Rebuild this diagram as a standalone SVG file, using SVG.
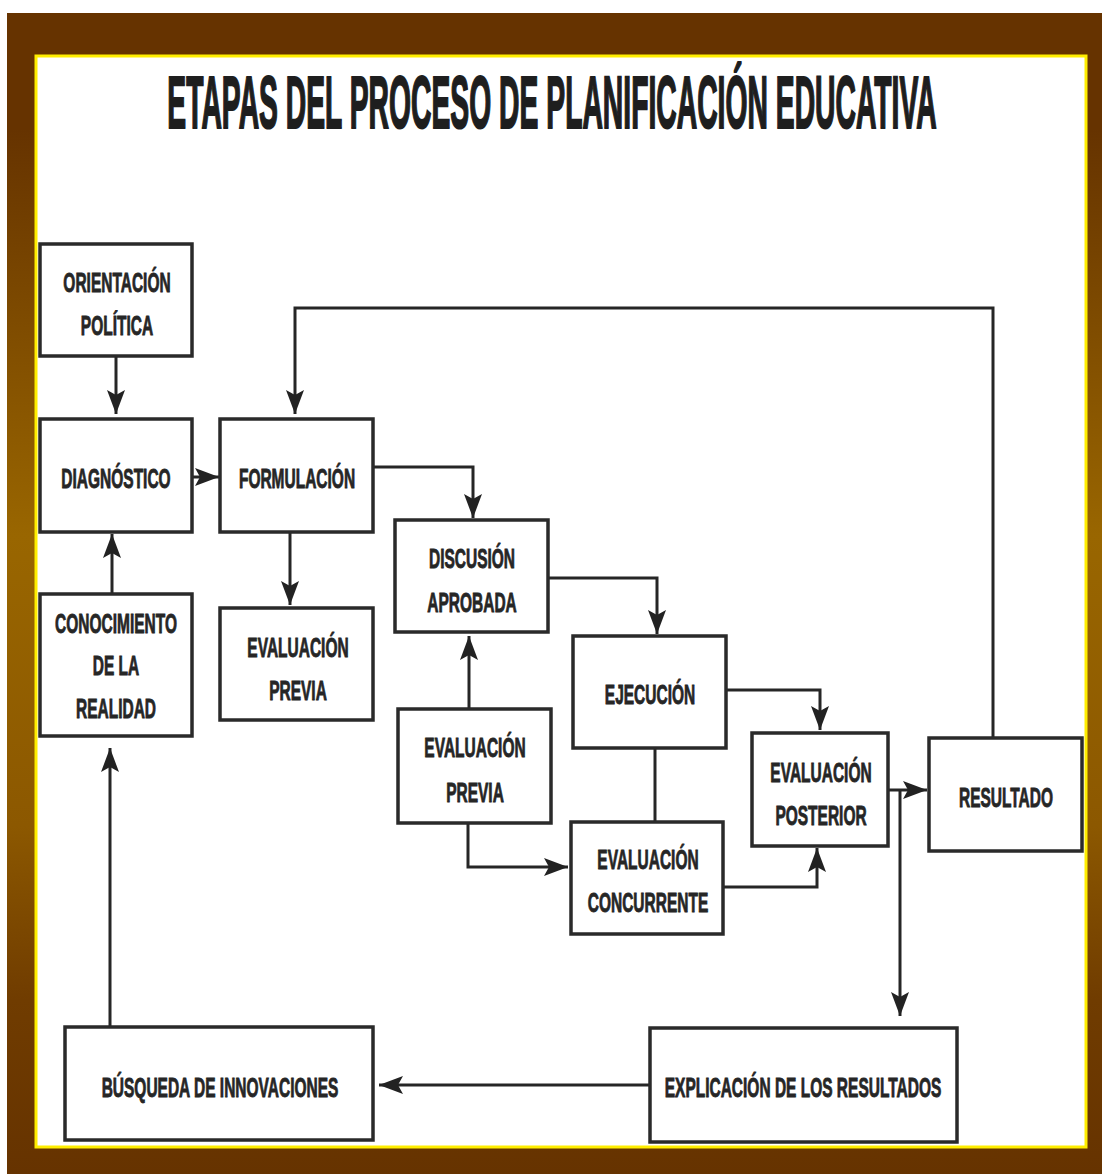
<svg xmlns="http://www.w3.org/2000/svg" width="1102" height="1174" viewBox="0 0 1102 1174">
<defs>
<linearGradient id="bg" x1="0" y1="0" x2="0" y2="1">
<stop offset="0" stop-color="#663300"/>
<stop offset="0.1" stop-color="#663300"/>
<stop offset="0.45" stop-color="#996600"/>
<stop offset="0.7" stop-color="#8c5800"/>
<stop offset="0.85" stop-color="#703c00"/>
<stop offset="1" stop-color="#663300"/>
</linearGradient>
<marker id="ah" markerUnits="userSpaceOnUse" markerWidth="26" markerHeight="20" refX="24" refY="10" orient="auto" viewBox="0 0 26 20">
<path d="M0,1 L24,10 L0,19 L5,10 z" fill="#222"/>
</marker>
<style>
.box{fill:#fff;stroke:#2a2a2a;stroke-width:3.5}
.t{font-family:"Liberation Sans",Arial,sans-serif;font-weight:bold;font-size:15.5px;fill:#262626;stroke:#262626;stroke-width:0.5;text-anchor:middle}
.c{fill:none;stroke:#262626;stroke-width:3}
.a{marker-end:url(#ah)}
</style>
</defs>
<rect x="0" y="0" width="1102" height="1174" fill="#fff"/>
<rect x="7" y="13" width="1095" height="1161" fill="url(#bg)"/>
<rect x="36" y="56" width="1050" height="1091" fill="#fff" stroke="#ffee00" stroke-width="3"/>
<text transform="matrix(1,0,0,2.62,552,128)" x="0" y="0" font-family="'Liberation Sans',Arial,sans-serif" font-weight="bold" font-size="28.3" fill="#1e1e1e" stroke="#1e1e1e" stroke-width="0.8" text-anchor="middle">ETAPAS DEL PROCESO DE PLANIFICACIÓN EDUCATIVA</text>

<g id="connectors">
<path class="c a" d="M116,356 V414"/>
<path class="c a" d="M193,477 H219"/>
<path class="c a" d="M112,594 V534"/>
<path class="c a" d="M290,532 V605"/>
<path class="c a" d="M373,467 H473 V518"/>
<path class="c a" d="M993,738 V308 H295 V414"/>
<path class="c a" d="M548,578 H657 V634"/>
<path class="c a" d="M469,709 V636"/>
<path class="c a" d="M468,823 V867 H568"/>
<path class="c" d="M655,748 V822"/>
<path class="c a" d="M726,690 H820 V730"/>
<path class="c a" d="M723,887 H817 V848"/>
<path class="c a" d="M888,790 H927"/>
<path class="c a" d="M900,790 V1016"/>
<path class="c a" d="M650,1085 H379"/>
<path class="c a" d="M110,1027 V748"/>
</g>

<g id="orientacion">
<rect class="box" x="40" y="244" width="152" height="112"/>
<text class="t" transform="matrix(1,0,0,1.75,117,292)">ORIENTACIÓN</text>
<text class="t" transform="matrix(1,0,0,1.75,117,335)">POLÍTICA</text>
</g>
<g id="diagnostico">
<rect class="box" x="40" y="419" width="152" height="113"/>
<text class="t" transform="matrix(1,0,0,1.75,116,488)">DIAGNÓSTICO</text>
</g>
<g id="formulacion">
<rect class="box" x="220" y="419" width="153" height="113"/>
<text class="t" transform="matrix(1,0,0,1.75,297,488)">FORMULACIÓN</text>
</g>
<g id="conocimiento">
<rect class="box" x="40" y="594" width="152" height="142"/>
<text class="t" transform="matrix(1,0,0,1.75,116,633)">CONOCIMIENTO</text>
<text class="t" transform="matrix(1,0,0,1.75,116,675)">DE LA</text>
<text class="t" transform="matrix(1,0,0,1.75,116,718)">REALIDAD</text>
</g>
<g id="evaluacion-previa-1">
<rect class="box" x="220" y="608" width="153" height="112"/>
<text class="t" transform="matrix(1,0,0,1.75,298,657)">EVALUACIÓN</text>
<text class="t" transform="matrix(1,0,0,1.75,298,700)">PREVIA</text>
</g>
<g id="discusion">
<rect class="box" x="395" y="520" width="153" height="112"/>
<text class="t" transform="matrix(1,0,0,1.75,472,568)">DISCUSIÓN</text>
<text class="t" transform="matrix(1,0,0,1.75,472,612)">APROBADA</text>
</g>
<g id="ejecucion">
<rect class="box" x="573" y="636" width="153" height="112"/>
<text class="t" transform="matrix(1,0,0,1.75,650,704)">EJECUCIÓN</text>
</g>
<g id="evaluacion-previa-2">
<rect class="box" x="398" y="709" width="153" height="114"/>
<text class="t" transform="matrix(1,0,0,1.75,475,757)">EVALUACIÓN</text>
<text class="t" transform="matrix(1,0,0,1.75,475,802)">PREVIA</text>
</g>
<g id="evaluacion-concurrente">
<rect class="box" x="571" y="822" width="152" height="112"/>
<text class="t" transform="matrix(1,0,0,1.75,648,869)">EVALUACIÓN</text>
<text class="t" transform="matrix(1,0,0,1.75,648,912)">CONCURRENTE</text>
</g>
<g id="evaluacion-posterior">
<rect class="box" x="752" y="733" width="136" height="113"/>
<text class="t" transform="matrix(1,0,0,1.75,821,782)">EVALUACIÓN</text>
<text class="t" transform="matrix(1,0,0,1.75,821,825)">POSTERIOR</text>
</g>
<g id="resultado">
<rect class="box" x="929" y="738" width="153" height="113"/>
<text class="t" transform="matrix(1,0,0,1.75,1006,807)">RESULTADO</text>
</g>
<g id="explicacion">
<rect class="box" x="650" y="1028" width="307" height="114"/>
<text class="t" transform="matrix(1,0,0,1.75,803,1097)">EXPLICACIÓN DE LOS RESULTADOS</text>
</g>
<g id="busqueda">
<rect class="box" x="65" y="1027" width="308" height="113"/>
<text class="t" transform="matrix(1,0,0,1.75,220,1097)">BÚSQUEDA DE INNOVACIONES</text>
</g>
</svg>
